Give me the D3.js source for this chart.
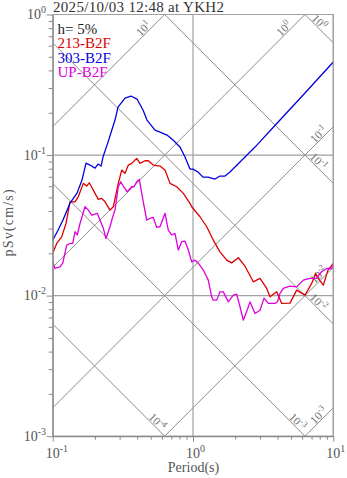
<!DOCTYPE html>
<html>
<head>
<meta charset="utf-8">
<script src="https://cdn.jsdelivr.net/npm/d3@7"></script>
<style>
  html, body { margin: 0; padding: 0; background: #fff; }
  svg { display: block; }
  text { font-family: "Liberation Serif", "Times New Roman", serif; }
</style>
</head>
<body>
<svg id="chart" width="347" height="478"></svg>
<script>
// Pseudo-velocity response spectra on a tripartite (log-log) grid.
const chartTitle = "2025/10/03 12:48 at YKH2";
const dampingLabel = "h= 5%";
const seriesNames = ["213-B2F", "303-B2F", "UP-B2F"];
const seriesColors = ["#dd0000", "#0000dd", "#dd00dd"];
const periodTicks = [0.1, 1, 10];
const svTicks = [0.001, 0.01, 0.1, 1];
const accelLevels = [1e-3, 1e-2, 1e-1, 1e0, 1e1];   // constant Sa guides (cm/s²)
const dispLevels = [1e-4, 1e-3, 1e-2, 1e-1, 1e0];   // constant Sd guides (cm)

const period213 = [0.1,0.1068,0.1159,0.1244,0.1328,0.1442,0.1522,0.1652,0.1747,0.1823,
  0.2003,0.2113,0.2236,0.236,0.2561,0.2704,0.2935,0.3103,0.3276,0.3458,
  0.3657,0.397,0.4191,0.4549,0.4802,0.5212,0.5818,0.6316,0.6858,0.7655,
  0.853,0.9519,0.9788,1.122,1.252,1.359,1.395,1.557,1.739,1.887,
  2.103,2.348,2.69,3.002,3.353,3.539,3.951,4.288,4.912,5.483,
  6.286,7.015,7.467,7.819,8.487,9.167,10];
const sv213 = [0.02,0.0235,0.0262,0.0326,0.0465,0.0465,0.0505,0.0629,0.0602,0.0635,
  0.0534,0.0484,0.0492,0.0465,0.0406,0.0429,0.0629,0.0782,0.0741,0.0849,
  0.0873,0.0947,0.0873,0.0911,0.0911,0.0849,0.0835,0.0782,0.0629,0.0595,
  0.0534,0.0453,0.0429,0.0364,0.0309,0.0262,0.0248,0.0205,0.0179,0.0171,
  0.0186,0.0162,0.01254,0.01326,0.01125,0.00981,0.01064,0.0088,0.00884,0.01094,
  0.01008,0.01221,0.01439,0.01326,0.01188,0.01519,0.01695];

const period303 = [0.1,0.1091,0.1184,0.1328,0.149,0.1618,0.1727,0.1845,0.2003,0.2103,
  0.221,0.2283,0.2479,0.278,0.2921,0.3276,0.3615,0.399,0.4402,0.47,
  0.5019,0.536,0.5818,0.6527,0.7202,0.8077,0.877,0.9519,1.0,1.085,
  1.178,1.279,1.435,1.557,1.691,1.835,2.766,4.17,6.286,10];
const sv303 = [0.0248,0.0292,0.0345,0.0455,0.0536,0.0664,0.0877,0.0849,0.0808,0.0863,
  0.0835,0.0968,0.1237,0.1775,0.2195,0.2545,0.263,0.2503,0.2091,0.1775,
  0.1635,0.1506,0.1458,0.1388,0.1279,0.114,0.0968,0.0795,0.0795,0.0757,
  0.0697,0.0697,0.0675,0.0709,0.0709,0.0757,0.114,0.1775,0.2762,0.459];

const periodUP = [0.1,0.1038,0.1127,0.1178,0.1259,0.1328,0.1389,0.1442,0.1497,0.1565,
  0.1699,0.1794,0.1897,0.2003,0.2079,0.2173,0.2295,0.2399,0.2561,0.2678,
  0.278,0.2935,0.3053,0.3186,0.3402,0.3657,0.3798,0.397,0.4143,0.431,
  0.4677,0.4938,0.5212,0.5511,0.5818,0.6316,0.6668,0.7051,0.7442,0.7857,
  0.8309,0.877,0.9259,0.9788,1.033,1.091,1.184,1.285,1.359,1.395,
  1.475,1.557,1.644,1.785,1.938,2.049,2.163,2.283,2.446,2.548,
  2.766,3.002,3.207,3.442,3.842,4.003,4.17,4.401,4.912,5.483,
  6.113,6.823,7.615,8.04,8.265,8.974,9.741,10];
const svUP = [0.0174,0.0156,0.016,0.017,0.0229,0.0235,0.0235,0.0285,0.027,0.0326,
  0.0429,0.0406,0.0374,0.038,0.0385,0.0345,0.0301,0.0255,0.0309,0.0364,
  0.0406,0.0595,0.0646,0.0602,0.0548,0.0595,0.0595,0.0646,0.0671,0.0534,
  0.0345,0.0354,0.036,0.0306,0.0309,0.0385,0.0292,0.027,0.0277,0.0211,
  0.0242,0.0244,0.0211,0.0174,0.0179,0.017,0.0152,0.01289,0.00981,0.00929,
  0.00929,0.01064,0.01064,0.00903,0.01008,0.01025,0.00833,0.00669,0.00801,0.00903,
  0.00747,0.00788,0.0096,0.0088,0.0088,0.00906,0.01037,0.01125,0.01168,0.01155,
  0.01289,0.01326,0.01326,0.01439,0.01477,0.0156,0.0156,0.01676];

const seriesPeriods = [period213, period303, periodUP];
const seriesValues = [sv213, sv303, svUP];

// ---- layout ----
const width = 347, height = 478;
const plot = { left: 52.7, right: 333.3, top: 14.5, bottom: 436.2 };

const svg = d3.select("#chart");
const x = d3.scaleLog().domain([periodTicks[0], periodTicks[periodTicks.length - 1]])
  .range([plot.left, plot.right]);
const y = d3.scaleLog().domain([svTicks[0], svTicks[svTicks.length - 1]])
  .range([plot.bottom, plot.top]);

const gridColor = "#a0a0a0";
const guideColor = "#8c8c8c";
const axisColor = "#8a8a8a";
const labelColor = "#555";

svg.append("defs").append("clipPath").attr("id", "plotClip")
  .append("rect")
  .attr("x", plot.left).attr("y", plot.top)
  .attr("width", plot.right - plot.left).attr("height", plot.bottom - plot.top);

// decade grid lines
const grid = svg.append("g");
grid.selectAll("line.gx").data(periodTicks).join("line")
  .attr("x1", d => x(d)).attr("x2", d => x(d))
  .attr("y1", plot.top).attr("y2", plot.bottom)
  .attr("stroke", gridColor).attr("stroke-width", 1.2);
grid.selectAll("line.gy").data(svTicks).join("line")
  .attr("y1", d => y(d)).attr("y2", d => y(d))
  .attr("x1", plot.left).attr("x2", plot.right)
  .attr("stroke", gridColor).attr("stroke-width", 1.2);

// tripartite guides: Sv = Sa*T/(2π) rises, Sv = 2π*Sd/T falls
const TWO_PI = 2 * Math.PI;
const lt0 = Math.log10(x.domain()[0]), lt1 = Math.log10(x.domain()[1]);
const lv0 = Math.log10(y.domain()[0]), lv1 = Math.log10(y.domain()[1]);

function guideSegment(level, rising) {
  if (rising) {
    const c = Math.log10(level / TWO_PI);           // log Sv = log T + c
    const ts = Math.max(lt0, lv0 - c), te = Math.min(lt1, lv1 - c);
    return { start: [ts, ts + c], end: [te, te + c], exitRight: te === lt1 };
  } else {
    const c = Math.log10(level * TWO_PI);           // log Sv = -log T + c
    const ts = Math.max(lt0, c - lv1), te = Math.min(lt1, c - lv0);
    return { start: [ts, c - ts], end: [te, c - te], exitRight: te === lt1 };
  }
}

const guides = [];
accelLevels.forEach(a => guides.push({ level: a, rising: true, seg: guideSegment(a, true) }));
dispLevels.forEach(d => guides.push({ level: d, rising: false, seg: guideSegment(d, false) }));

const guideG = svg.append("g").attr("clip-path", "url(#plotClip)");
guides.forEach(g => {
  const p0 = [x(10 ** g.seg.start[0]), y(10 ** g.seg.start[1])];
  const p1 = [x(10 ** g.seg.end[0]), y(10 ** g.seg.end[1])];
  g.p0 = p0; g.p1 = p1;
  guideG.append("line")
    .attr("x1", p0[0]).attr("y1", p0[1]).attr("x2", p1[0]).attr("y2", p1[1])
    .attr("stroke", guideColor).attr("stroke-width", 1);
});

// guide labels, set along each line just inside the edge it leaves through
const labelMargin = 4.5, labelHeight = 10.5;
const guideLabels = svg.append("g").attr("fill", "#6e6e6e").attr("font-size", 11.5);
guides.forEach(g => {
  const dx = g.p1[0] - g.p0[0], dy = g.p1[1] - g.p0[1];
  const len = Math.hypot(dx, dy);
  const ux = dx / len, uy = dy / len;
  const angle = Math.atan2(dy, dx) * 180 / Math.PI;
  const lift = labelHeight * Math.SQRT1_2;
  let back;
  if (g.rising) back = g.seg.exitRight ? labelMargin : labelMargin + lift;
  else back = g.seg.exitRight ? labelMargin + lift : labelMargin;
  const s = back / Math.abs(ux);
  const px = g.p1[0] - ux * s, py = g.p1[1] - uy * s;
  const t = guideLabels.append("text")
    .attr("transform", `translate(${px},${py}) rotate(${angle})`)
    .attr("text-anchor", "end").attr("dy", -1.2);
  t.append("tspan").text("10");
  t.append("tspan").attr("dy", -4.5).attr("font-size", 8.5).text(Math.round(Math.log10(g.level)));
});

// response curves
const line = d3.line().x(d => x(d[0])).y(d => y(d[1]));
const curves = svg.append("g").attr("clip-path", "url(#plotClip)");
seriesNames.forEach((name, i) => {
  const pts = seriesPeriods[i].map((p, k) => [p, seriesValues[i][k]]);
  curves.append("path").datum(pts)
    .attr("d", line).attr("fill", "none")
    .attr("stroke", seriesColors[i]).attr("stroke-width", 1.3)
    .attr("stroke-linejoin", "round");
});

// axes with decade and sub-decade ticks
function allTicks(domain) {
  const out = [];
  const a = Math.round(Math.log10(domain[0])), b = Math.round(Math.log10(domain[1]));
  for (let e = a; e <= b; e++) for (let m = 1; m <= 9; m++) {
    const v = m * 10 ** e;
    if (e === b && m > 1) break;
    out.push(v);
  }
  return out;
}
const isMajor = v => Math.abs(Math.log10(v) - Math.round(Math.log10(v))) < 1e-6;

const xAxis = svg.append("g").attr("transform", `translate(0,${plot.bottom})`)
  .call(d3.axisBottom(x).tickValues(allTicks(x.domain())).tickFormat("").tickSizeOuter(0));
xAxis.selectAll(".tick line").attr("y2", d => isMajor(d) ? 5.5 : 3.5);
const yAxis = svg.append("g").attr("transform", `translate(${plot.left},0)`)
  .call(d3.axisLeft(y).tickValues(allTicks(y.domain())).tickFormat("").tickSizeOuter(0));
yAxis.selectAll(".tick line").attr("x2", d => isMajor(d) ? -6 : -4);
[xAxis, yAxis].forEach(g => {
  g.select(".domain").attr("stroke", axisColor).attr("stroke-width", 1.2);
  g.selectAll(".tick line").attr("stroke", axisColor).attr("stroke-width", 1);
});

// top and right frame edges
svg.append("path")
  .attr("d", `M${plot.left},${plot.top}H${plot.right}V${plot.bottom}`)
  .attr("fill", "none").attr("stroke", gridColor).attr("stroke-width", 1.2);

// power-of-ten tick labels
function powerLabel(sel, exp, supSize, rise) {
  sel.append("tspan").text("10");
  sel.append("tspan").attr("dy", -rise).attr("font-size", supSize).text(exp);
}
periodTicks.forEach(v => {
  const t = svg.append("text").attr("x", x(v) - 7).attr("y", 457.5)
    .attr("font-size", 14).attr("fill", labelColor);
  powerLabel(t, Math.round(Math.log10(v)), 10, 6);
});
svTicks.forEach(v => {
  const t = svg.append("text").attr("x", 46).attr("y", y(v) + 4.5)
    .attr("text-anchor", "end").attr("font-size", 14).attr("fill", labelColor);
  powerLabel(t, Math.round(Math.log10(v)), 10, 6);
});

// axis titles
svg.append("text").attr("x", (plot.left + plot.right) / 2 + 0.5).attr("y", 472)
  .attr("text-anchor", "middle").attr("font-size", 14).attr("fill", labelColor)
  .text("Period(s)");
svg.append("text")
  .attr("transform", `translate(12.5,${(plot.top + plot.bottom) / 2 - 3}) rotate(-90)`)
  .attr("text-anchor", "middle").attr("font-size", 14).attr("letter-spacing", 1.2)
  .attr("fill", labelColor).text("pSv(cm/s)");

// title and legend
svg.append("text").attr("x", 53).attr("y", 11.5)
  .attr("font-size", 15).attr("letter-spacing", 0.3).attr("fill", "#333").text(chartTitle);
const legend = svg.append("g").attr("font-size", 15);
legend.append("text").attr("x", 57.5).attr("y", 33.5).attr("fill", "#222").text(dampingLabel);
seriesNames.forEach((name, i) => {
  legend.append("text").attr("x", 57.5).attr("y", 48 + i * 14.6)
    .attr("fill", seriesColors[i]).text(name);
});
</script>
</body>
</html>
